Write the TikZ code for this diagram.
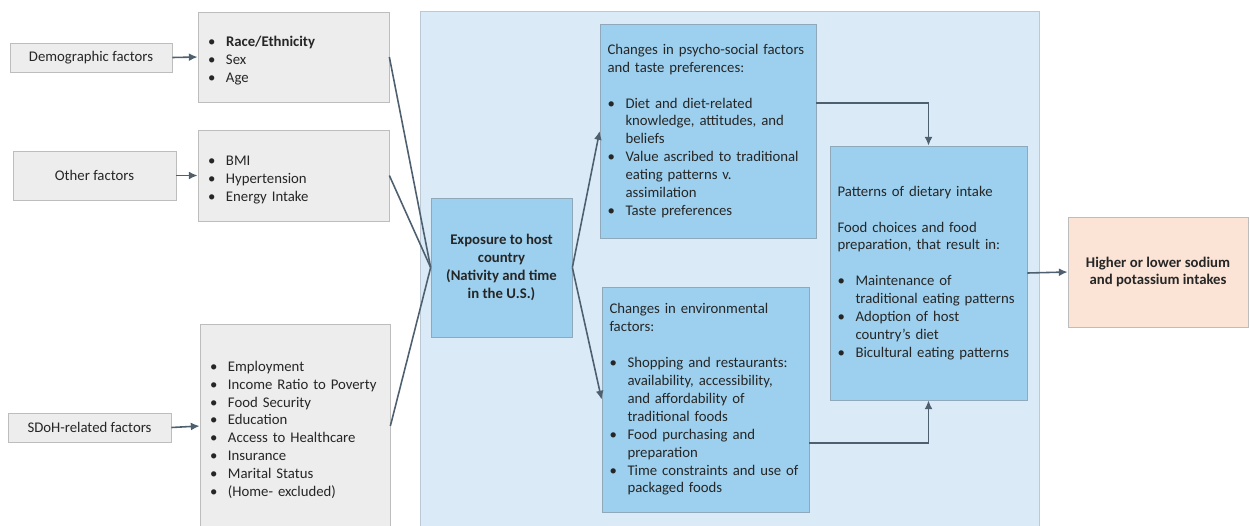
\documentclass[tikz,border=0pt]{standalone}
\usepackage{fontspec}
\setmainfont{Carlito}
\usetikzlibrary{arrows.meta}

\definecolor{boxgray}{HTML}{EDEDED}
\definecolor{linegray}{HTML}{BDBDBD}
\definecolor{hostblue}{HTML}{DAEAF7}
\definecolor{hostline}{HTML}{BCC8D3}
\definecolor{midblue}{HTML}{9DD0EF}
\definecolor{midline}{HTML}{8FA8BA}
\definecolor{peach}{HTML}{FBE4D6}
\definecolor{slate}{HTML}{4E6070}

% bullet item with hanging indent
\newcommand{\bul}[1]{\par\hangindent=0.36cm\hangafter=1\noindent\makebox[0.36cm][l]{\textbullet}#1}
\newcommand{\gap}{\par\vskip\baselineskip}

\begin{document}
\begin{tikzpicture}[y=-1cm,
    every node/.style={font=\fontsize{8.4}{10.2}\selectfont, text=black!85},
    factor/.style={draw=linegray, fill=boxgray, minimum height=0.58cm},
    listbox/.style={draw=linegray, fill=boxgray, align=left, inner xsep=0.2cm},
    bluebox/.style={draw=midline, fill=midblue, align=left, inner xsep=0.15cm},
    line/.style={draw=slate, line width=0.9pt},
    conn/.style={line, -{Latex[length=5pt,width=4.5pt]}}]
    \useasboundingbox (0,0) rectangle (25,10.5);
    \clip (0,0) rectangle (25,10.5);
    % host country frame
    \filldraw[fill=hostblue, draw=hostline] (8.4,0.22) rectangle (20.78,10.8);
    % factors on the left
    \node[factor, minimum width=3.24cm] (demo) at (1.82,1.15) {Demographic factors};
    \node[factor, minimum width=3.26cm, minimum height=0.98cm] (other) at (1.89,3.51) {Other factors};
    \node[factor, minimum width=3.26cm] (sdoh) at (1.79,8.55) {SDoH-related factors};
    \node[listbox, minimum width=3.82cm, minimum height=1.8cm, text width=3.42cm] (demolist) at (5.87,1.14)
        {\bul{\textbf{Race/Ethnicity}}\bul{Sex}\bul{Age}\par};
    \node[listbox, minimum width=3.82cm, minimum height=1.82cm, text width=3.42cm] (otherlist) at (5.87,3.51)
        {\bul{BMI}\bul{Hypertension}\bul{Energy Intake}\par};
    \node[listbox, minimum width=3.8cm, minimum height=4.08cm, text width=3.4cm] (sdohlist) at (5.9,8.52)
        {\bul{Employment}\bul{Income Ratio to Poverty}\bul{Food Security}\bul{Education}%
         \bul{Access to Healthcare}\bul{Insurance}\bul{Marital Status}\bul{(Home- excluded)}\par};
    % exposure and pathways
    \node[bluebox, align=center, minimum width=2.82cm, minimum height=2.78cm, font=\fontsize{8.4}{10.2}\selectfont\bfseries] (expo) at (10.03,5.35)
        {Exposure to host\\country\\(Nativity and time\\in the U.S.)};
    \node[bluebox, minimum width=4.32cm, minimum height=4.28cm, text width=4.02cm] (psy) at (14.16,2.62)
        {Changes in psycho-social factors\\and taste preferences:\gap
         \bul{Diet and diet-related\newline knowledge, attitudes, and\newline beliefs}%
         \bul{Value ascribed to traditional\newline eating patterns v.\newline assimilation}%
         \bul{Taste preferences}\par};
    \node[bluebox, minimum width=4.14cm, minimum height=4.5cm, text width=3.84cm] (env) at (14.11,7.99)
        {Changes in environmental\\factors:\gap
         \bul{Shopping and restaurants:\newline availability, accessibility,\newline and affordability of\newline traditional foods}%
         \bul{Food purchasing and\newline preparation}%
         \bul{Time constraints and use of\newline packaged foods}\par};
    \node[bluebox, minimum width=3.94cm, minimum height=5.08cm, text width=3.64cm] (pat) at (18.57,5.46)
        {Patterns of dietary intake\gap
         Food choices and food\\preparation, that result in:\gap
         \bul{Maintenance of\newline traditional eating patterns}%
         \bul{Adoption of host\newline country's diet}%
         \bul{Bicultural eating patterns}\par};
    \node[draw=linegray, fill=peach, align=center, minimum width=3.6cm, minimum height=2.2cm, font=\fontsize{8.4}{10.2}\selectfont\bfseries] (res) at (23.16,5.44)
        {Higher or lower sodium\\and potassium intakes};
    % connectors
    \draw[conn] (demo.east) -- (demolist.west);
    \draw[conn] (other.east) -- (otherlist.west);
    \draw[conn] (sdoh.east) -- (sdohlist.west);
    \draw[line] (demolist.east) -- (expo.west);
    \draw[line] (otherlist.east) -- (expo.west);
    \draw[line] (sdohlist.east) -- (expo.west);
    \draw[conn] (expo.east) -- (psy.west);
    \draw[conn] (expo.east) -- (env.west);
    \draw[conn] ([yshift=0.56cm]psy.east) -| (pat.north);
    \draw[conn] ([yshift=-0.87cm]env.east) -| (pat.south);
    \draw[conn] (pat.east) -- (res.west);
\end{tikzpicture}
\end{document}
